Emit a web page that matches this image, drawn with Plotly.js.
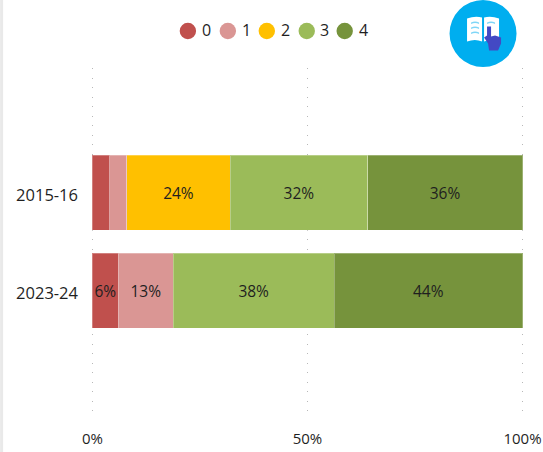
<!DOCTYPE html>
<html><head><meta charset="utf-8">
<script src="https://cdn.plot.ly/plotly-3.0.1.min.js"></script>
<style>html,body{margin:0;padding:0;background:#fff}#c{width:543px;height:452px}</style>
</head><body><div id="c"></div>
<script>
const categories = ['2015-16', '2023-24'];
const seriesNames = ['0', '1', '2', '3', '4'];
const seriesColors = ['#c0504d', '#da9694', '#ffc000', '#9bbb59', '#76933c'];
const s0 = [4, 6];
const s1 = [4, 12.8];
const s2 = [24, 0];
const s3 = [32, 37.4];
const s4 = [36, 43.8];
const labels0 = ['', '6%'];
const labels1 = ['', '13%'];
const labels2 = ['24%', ''];
const labels3 = ['32%', '38%'];
const labels4 = ['36%', '44%'];
const tickVals = [0, 50, 100];
const tickText = ['0%', '50%', '100%'];

const values = [s0, s1, s2, s3, s4];
const texts = [labels0, labels1, labels2, labels3, labels4];
const FONT = '"Open Sans", sans-serif';
const INK = '#1f1f1f';

const traces = values.map((v, i) => ({
  type: 'bar', orientation: 'h', y: categories, x: v, name: seriesNames[i],
  text: texts[i], textposition: 'inside', insidetextanchor: 'middle', textangle: 0,
  constraintext: 'none', cliponaxis: false,
  textfont: {family: FONT, size: 15.5, color: INK},
  marker: {color: seriesColors[i], line: {color: 'rgba(255,255,255,0.28)', width: 1}},
  hoverinfo: 'skip'
}));

const W = 435.5, H = 352, L = 90, T = 68;
const px = x => (x - L) / W;
const py = y => (T + H - y) / H;
const ax = px(483.5), ay = py(33.5);
const pixelShape = (xa, ya, extra) => Object.assign({
  xref: 'paper', yref: 'paper', xsizemode: 'pixel', ysizemode: 'pixel', xanchor: xa, yanchor: ya,
  line: {width: 0}, layer: 'above'
}, extra);
const icon = (path, fill) => pixelShape(ax, ay, {type: 'path', path, fillcolor: fill});

const legendCircleX = [188, 228, 267, 307, 345];
const legendTextX = [200, 240, 279, 318, 357];
const legendY = 31;

const shapes = [
  {type: 'rect', xref: 'paper', yref: 'paper', x0: px(0), x1: px(3), y0: py(452), y1: py(0),
   fillcolor: '#e9e9e9', line: {width: 0}, layer: 'below'},
  pixelShape(ax, ay, {type: 'circle', x0: -33.5, x1: 33.5, y0: -33.5, y1: 33.5, fillcolor: '#00aeef'}),
  icon('M-16 -8 Q-8 -5 -1 -8 L-1 16 Q-8 18 -16 15 Z M1 -8 Q8 -5 16 -8 L16 15 Q8 18 1 16 Z', '#ffffff'),
  icon('M-12 11 Q-8 13 -4 11 L-4 9.5 Q-8 11.5 -12 9.5 Z M-12 6 Q-8 8 -4 6 L-4 4.5 Q-8 6.5 -12 4.5 Z M-12 1 Q-8 3 -4 1 L-4 -0.5 Q-8 1.5 -12 -0.5 Z', '#7fd6f7'),
  icon('M4 11 Q8 13 12 11 L12 9.5 Q8 11.5 4 9.5 Z', '#7fd6f7'),
  icon('M4 7 L8 7 L8 -3 L12 -2 L18 -4 L18 -10 L15 -17 L6 -17 L5 -10 L1 -4 L4 -2 Z', '#4349c4')
].concat(seriesColors.map((c, i) => pixelShape(px(legendCircleX[i]), py(legendY), {
  type: 'circle', x0: -8.2, x1: 8.2, y0: -8.2, y1: 8.2, fillcolor: c
})));

const annotations = seriesNames.map((n, i) => ({
  text: n, xref: 'paper', yref: 'paper', x: px(legendTextX[i]), y: py(legendY - 1),
  xanchor: 'left', yanchor: 'middle', showarrow: false,
  font: {family: FONT, size: 16, color: INK}
}));

Plotly.newPlot('c', traces, {
  width: 543, height: 452,
  margin: {l: L, r: 543 - L - W, t: T, b: 452 - T - H, pad: 0, autoexpand: false},
  paper_bgcolor: '#ffffff', plot_bgcolor: '#ffffff',
  barmode: 'stack', barnorm: 'percent', bargap: 0.235,
  font: {family: FONT, size: 16, color: INK},
  xaxis: {range: [-0.58, 100.58], tickmode: 'array', tickvals: tickVals, ticktext: tickText,
    showgrid: true, gridcolor: '#b8b8b8', griddash: '1px,8.5px', gridwidth: 1, zeroline: false,
    showline: false, ticks: '', ticklabelstandoff: 8, tickfont: {family: FONT, size: 15, color: INK}, automargin: false},
  yaxis: {type: 'category', categoryorder: 'array', categoryarray: categories, range: [2.32, -1.27],
    showgrid: false, zeroline: false, showline: false, ticks: '', ticklen: 0, ticklabelstandoff: 11,
    ticklabelshift: -3,
    tickfont: {family: FONT, size: 16.5, color: INK}, automargin: false},
  showlegend: false,
  annotations, shapes
}, {displayModeBar: false, responsive: false});
</script></body></html>
